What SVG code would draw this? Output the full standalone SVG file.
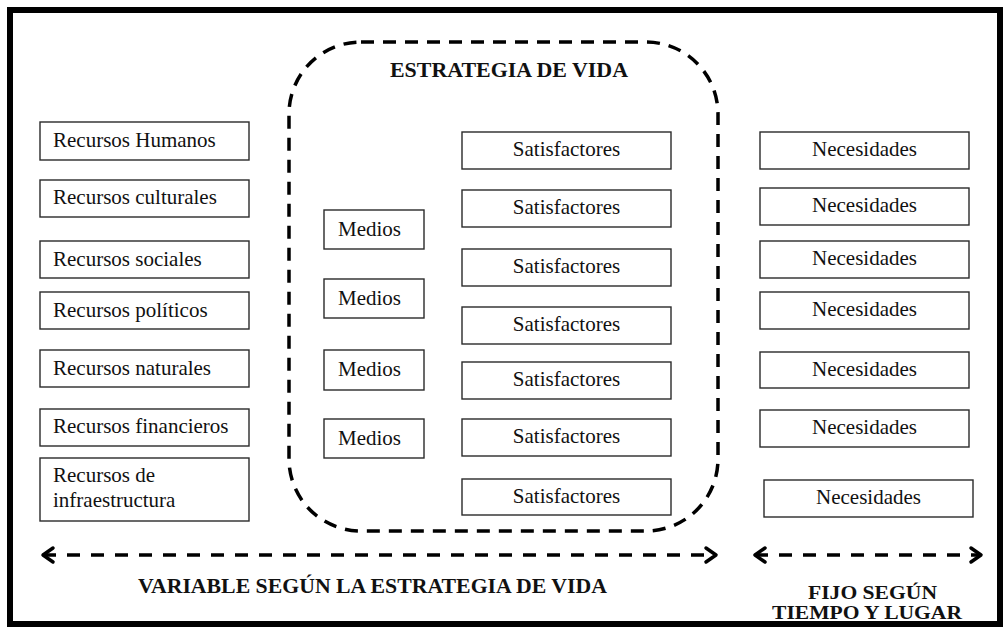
<svg xmlns="http://www.w3.org/2000/svg" width="1003" height="627" viewBox="0 0 1003 627">
<style>
.box{fill:#fff;stroke:#2a2a2a;stroke-width:1.4}
.t{font-family:"Liberation Serif","Times New Roman",serif;font-size:21px;fill:#111}
.c{text-anchor:middle}
.b{font-family:"Liberation Serif","Times New Roman",serif;font-size:21px;font-weight:bold;fill:#111}
.s{font-size:18px}
.dash{fill:none;stroke:#000;stroke-width:3.5;stroke-dasharray:13 9}
.arr{fill:none;stroke:#000;stroke-width:3.5;stroke-dasharray:13 11}
</style>
<defs>
<marker id="chev" markerUnits="userSpaceOnUse" markerWidth="18" markerHeight="20" refX="13" refY="10" orient="auto-start-reverse">
<path d="M3,3 L13,10 L3,17" fill="none" stroke="#000" stroke-width="3.5" stroke-linecap="round" stroke-linejoin="round" stroke-dasharray="none"/>
</marker>
</defs>
<rect x="0" y="0" width="1003" height="627" fill="#fff"/>
<rect id="frame" x="10" y="10" width="990" height="614" fill="none" stroke="#000" stroke-width="6"/>
<g id="estrategia">
<rect x="289" y="42" width="429" height="489" rx="72" ry="72" class="dash"/>
<text class="b" x="390" y="77" textLength="238" lengthAdjust="spacingAndGlyphs">ESTRATEGIA DE VIDA</text>
</g>
<g id="recursos-humanos"><rect class="box" x="40" y="122" width="209" height="38"/><text class="t" x="53" y="147">Recursos Humanos</text></g>
<g id="recursos-culturales"><rect class="box" x="40" y="180" width="209" height="37"/><text class="t" x="53" y="204">Recursos culturales</text></g>
<g id="recursos-sociales"><rect class="box" x="40" y="241" width="209" height="37"/><text class="t" x="53" y="266">Recursos sociales</text></g>
<g id="recursos-politicos"><rect class="box" x="40" y="292" width="209" height="37"/><text class="t" x="53" y="317">Recursos políticos</text></g>
<g id="recursos-naturales"><rect class="box" x="40" y="350" width="209" height="37"/><text class="t" x="53" y="375">Recursos naturales</text></g>
<g id="recursos-financieros"><rect class="box" x="40" y="409" width="209" height="37"/><text class="t" x="53" y="433">Recursos financieros</text></g>
<g id="recursos-infraestructura"><rect class="box" x="40" y="458" width="209" height="63"/><text class="t" x="53" y="482">Recursos de</text><text class="t" x="53" y="507">infraestructura</text></g>
<g id="medios-1"><rect class="box" x="324" y="210" width="100" height="39"/><text class="t" x="338" y="236">Medios</text></g>
<g id="medios-2"><rect class="box" x="324" y="279" width="100" height="39"/><text class="t" x="338" y="305">Medios</text></g>
<g id="medios-3"><rect class="box" x="324" y="350" width="100" height="40"/><text class="t" x="338" y="376">Medios</text></g>
<g id="medios-4"><rect class="box" x="324" y="419" width="100" height="39"/><text class="t" x="338" y="445">Medios</text></g>
<g id="satisfactores-1"><rect class="box" x="462" y="132" width="209" height="37"/><text class="t c" x="566.5" y="156">Satisfactores</text></g>
<g id="satisfactores-2"><rect class="box" x="462" y="190" width="209" height="37"/><text class="t c" x="566.5" y="214">Satisfactores</text></g>
<g id="satisfactores-3"><rect class="box" x="462" y="249" width="209" height="37"/><text class="t c" x="566.5" y="273">Satisfactores</text></g>
<g id="satisfactores-4"><rect class="box" x="462" y="307" width="209" height="37"/><text class="t c" x="566.5" y="331">Satisfactores</text></g>
<g id="satisfactores-5"><rect class="box" x="462" y="362" width="209" height="37"/><text class="t c" x="566.5" y="386">Satisfactores</text></g>
<g id="satisfactores-6"><rect class="box" x="462" y="419" width="209" height="37"/><text class="t c" x="566.5" y="443">Satisfactores</text></g>
<g id="satisfactores-7"><rect class="box" x="462" y="479" width="209" height="36"/><text class="t c" x="566.5" y="503">Satisfactores</text></g>
<g id="necesidades-1"><rect class="box" x="760" y="132" width="209" height="37"/><text class="t c" x="864.5" y="156">Necesidades</text></g>
<g id="necesidades-2"><rect class="box" x="760" y="188" width="209" height="37"/><text class="t c" x="864.5" y="212">Necesidades</text></g>
<g id="necesidades-3"><rect class="box" x="760" y="241" width="209" height="37"/><text class="t c" x="864.5" y="265">Necesidades</text></g>
<g id="necesidades-4"><rect class="box" x="760" y="292" width="209" height="37"/><text class="t c" x="864.5" y="316">Necesidades</text></g>
<g id="necesidades-5"><rect class="box" x="760" y="352" width="209" height="36"/><text class="t c" x="864.5" y="376">Necesidades</text></g>
<g id="necesidades-6"><rect class="box" x="760" y="410" width="209" height="37"/><text class="t c" x="864.5" y="434">Necesidades</text></g>
<g id="necesidades-7"><rect class="box" x="764" y="480" width="209" height="37"/><text class="t c" x="868.5" y="504">Necesidades</text></g>
<g id="connectors">
<line class="arr" x1="43" y1="555" x2="716" y2="555" marker-start="url(#chev)" marker-end="url(#chev)"/>
<line class="arr" x1="755" y1="555" x2="981" y2="555" marker-start="url(#chev)" marker-end="url(#chev)"/>
</g>
<g id="labels">
<text class="b" x="138" y="593" textLength="469" lengthAdjust="spacingAndGlyphs">VARIABLE SEGÚN LA ESTRATEGIA DE VIDA</text>
<text class="b s" x="808" y="599" textLength="129" lengthAdjust="spacingAndGlyphs">FIJO SEGÚN</text>
<text class="b s" x="772" y="619" textLength="190" lengthAdjust="spacingAndGlyphs">TIEMPO Y LUGAR</text>
</g>
</svg>
